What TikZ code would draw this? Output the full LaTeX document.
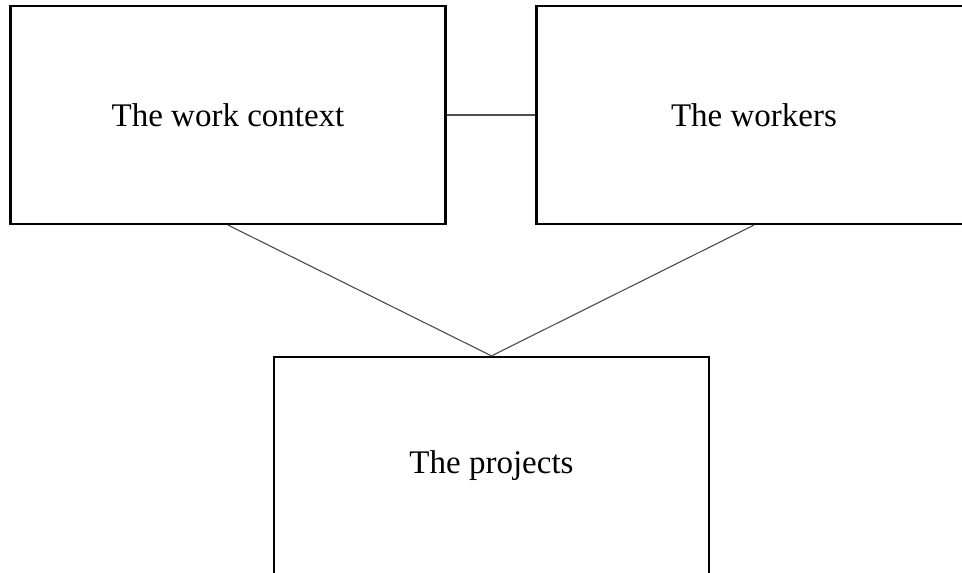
\documentclass[tikz,border=0pt]{standalone}
\usepackage{fontspec}
\setmainfont{Liberation Serif}
\begin{document}
\begin{tikzpicture}[x=1pt,y=1pt,
  box/.style={draw=black, line width=2.2pt, minimum width=435pt, minimum height=218pt, inner sep=0pt, font=\fontsize{33}{38}\selectfont},
  link/.style={draw=black!70, line width=1.1pt}]
\useasboundingbox (0,0) rectangle (962,573);
\clip (0,0) rectangle (962,573);
\fill[white] (0,0) rectangle (962,573);
\node[box] (ctx) at (228,458) {The work context};
\node[box] (wrk) at (754,458) {The workers};
\node[box] (prj) at (491.5,107) {The projects};
\draw[link] (ctx.east) -- (wrk.west);
\draw[link] (ctx.south) -- (prj.north);
\draw[link] (wrk.south) -- (prj.north);
\end{tikzpicture}
\end{document}
